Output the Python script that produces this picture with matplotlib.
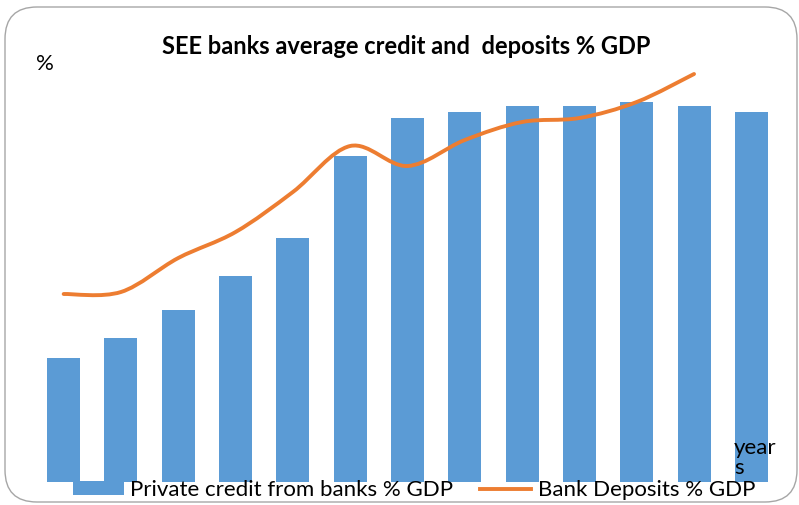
import matplotlib.pyplot as plt
from matplotlib.path import Path
from matplotlib.patches import PathPatch, FancyBboxPatch, Patch
from matplotlib.lines import Line2D

plt.rcParams['font.family'] = ['Lato', 'DejaVu Sans']

# values (no scale shown, so units are approximate %)
years = list(range(13))
credit = [31, 36, 43, 51.5, 61, 81.5, 91, 92.5, 94, 94, 95, 94, 92.5]
deposits = [47, 47.5, 56, 62.5, 72.5, 84, 79, 85.5, 90, 91, 95, 102]

BAR_COLOR = "#5B9BD5"
LINE_COLOR = "#ED7D31"

W, H = 799, 505
fig = plt.figure(figsize=(W / 100, H / 100), dpi=100)

# rounded chart border
border = FancyBboxPatch((5 / W, 1 - 502 / H), 792 / W, 495 / H,
                        boxstyle="round,pad=0,rounding_size=0.04",
                        transform=fig.transFigure, facecolor="none",
                        edgecolor="#A6A6A6", linewidth=1.0, mutation_aspect=W / H)
fig.patches.append(border)

ax = fig.add_axes([35 / W, 1 - 482 / H, 745 / W, 440 / H])
ax.bar(years, credit, width=0.575, color=BAR_COLOR)

# smoothed line (Excel-like bezier through the points)
xs = list(range(len(deposits)))
verts = [(xs[0], deposits[0])]
codes = [Path.MOVETO]
n = len(deposits)
for i in range(n - 1):
    p0 = (xs[max(i - 1, 0)], deposits[max(i - 1, 0)])
    p1 = (xs[i], deposits[i])
    p2 = (xs[i + 1], deposits[i + 1])
    p3 = (xs[min(i + 2, n - 1)], deposits[min(i + 2, n - 1)])
    c1 = (p1[0] + (p2[0] - p0[0]) / 6, p1[1] + (p2[1] - p0[1]) / 6)
    c2 = (p2[0] - (p3[0] - p1[0]) / 6, p2[1] - (p3[1] - p1[1]) / 6)
    verts += [c1, c2, p2]
    codes += [Path.CURVE4] * 3
ax.add_patch(PathPatch(Path(verts, codes), facecolor="none",
                       edgecolor=LINE_COLOR, linewidth=2.8, capstyle="round"))

ax.set_xlim(-0.5, 12.5)
ax.set_ylim(0, 110)
ax.axis("off")

fig.text(406 / W, 1 - 46 / H, "SEE banks average credit and  deposits % GDP",
         ha="center", va="center", fontsize=17, fontweight="bold")
fig.text(36 / W, 1 - 64 / H, "%", ha="left", va="center", fontsize=16)
fig.text(734 / W, 1 - 458 / H, "year\ns", ha="left", va="center",
         fontsize=16, linespacing=0.95)

handles = [Patch(facecolor=BAR_COLOR, edgecolor="none"),
           Line2D([], [], color=LINE_COLOR, linewidth=2.8)]
fig.legend(handles, ["Private credit from banks % GDP", "Bank Deposits % GDP"],
           loc="center", bbox_to_anchor=(414 / W, 1 - 490 / H), ncol=2,
           frameon=False, fontsize=16, handlelength=2.3, handleheight=0.6,
           handletextpad=0.3, columnspacing=1.2, borderpad=0, borderaxespad=0)

fig.savefig("out.png", dpi=100)
